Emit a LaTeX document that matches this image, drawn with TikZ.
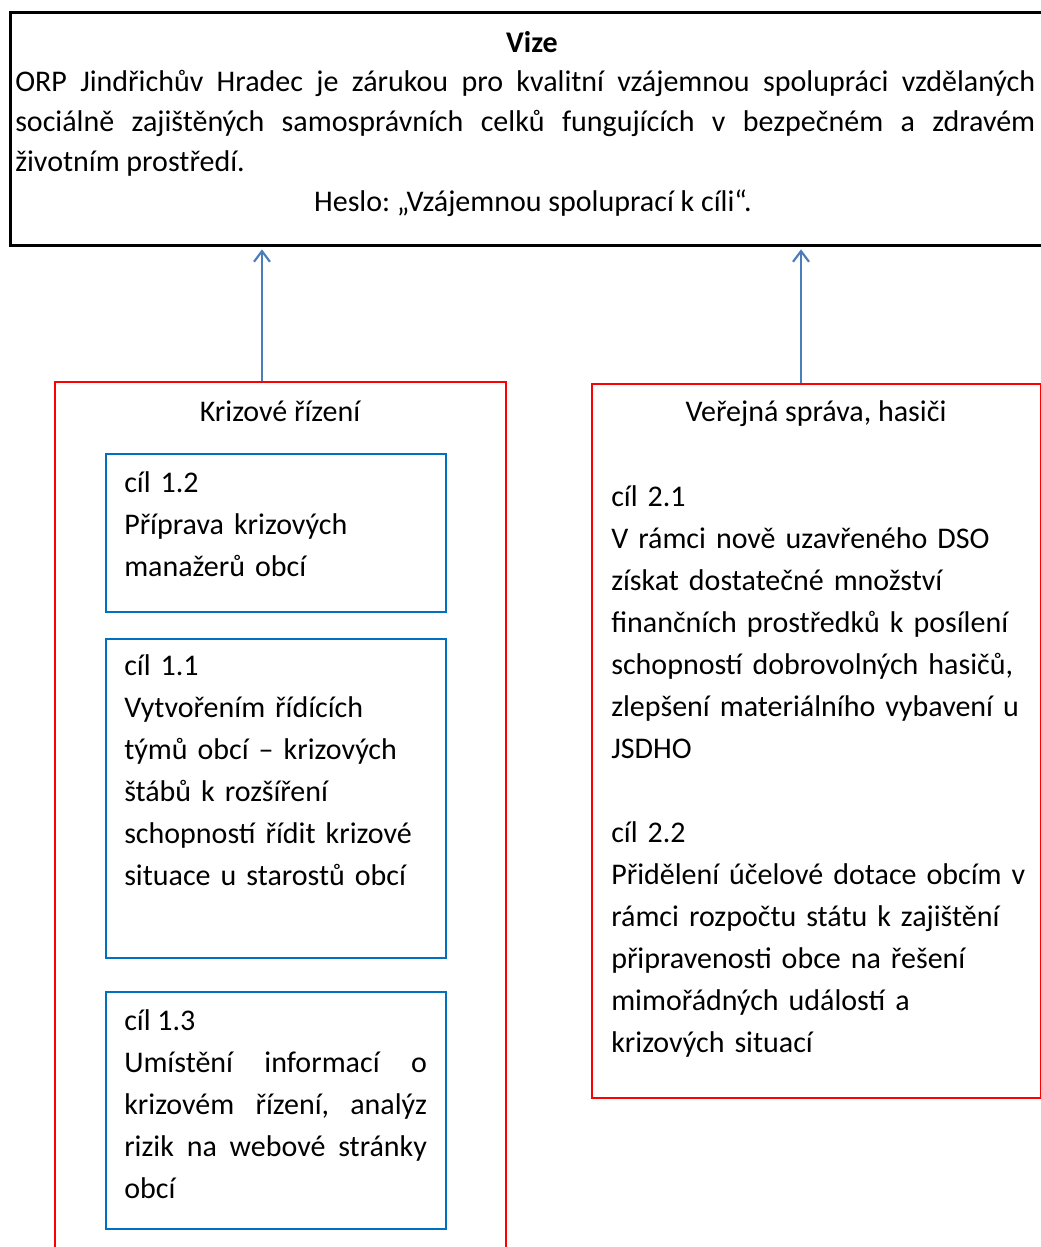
\documentclass[tikz,border=0pt]{standalone}
\usepackage{fontspec}
\setmainfont{Carlito}
\usepackage{xcolor}
\usepackage{tikz}
\usetikzlibrary{arrows.meta,positioning,calc}
\definecolor{GoalBlue}{HTML}{0070C0}
\definecolor{AreaRed}{HTML}{FF0000}
\definecolor{LinkBlue}{HTML}{4A7EBB}
\newcommand{\goalfont}{\fontsize{22.5}{31.5}\selectfont}
\newcommand{\vizefont}{\fontsize{22.5}{30}\selectfont}
\frenchspacing

\begin{document}
\begin{tikzpicture}[x=0.75pt,y=-0.75pt,
  box/.style={draw,line width=1.5pt,anchor=north west,inner sep=0pt},
  visionbox/.style={box,black,line width=2pt},
  areabox/.style={box,AreaRed},
  goalbox/.style={box,GoalBlue},
  txt/.style={inner sep=0pt,font=\goalfont,anchor=base west,text width=#1,align=left},
  head/.style={inner sep=0pt,font=\goalfont,anchor=base},
  link/.style={-{Straight Barb[length=8pt,width=12pt]},LinkBlue,line width=1.6pt,shorten >=2pt}]
\clip (0,0) rectangle (1041,1247);
% vize
\node[visionbox,minimum width=779.25pt,minimum height=174.75pt] (vize) at (9,11) {};
\node[head,font=\goalfont\bfseries] (vizetitle) at (532,52) {Vize};
\node[inner sep=0pt,font=\vizefont,anchor=base west,text width=765pt,align=justify] (vizetext) at (15,91)
  {ORP Jindřichův Hradec je zárukou pro kvalitní vzájemnou spolupráci vzdělaných\linebreak
   sociálně zajištěných samosprávních celků fungujících v bezpečném a zdravém\linebreak
   životním prostředí.};
\node[head] (heslo) at (533,211) {Heslo: „Vzájemnou spoluprací k cíli“.};

% krizove rizeni
\node[areabox,minimum width=338.25pt,minimum height=659.25pt] (krize) at (54,381) {};
\node[head] (krizetitle) at (280,421) {Krizové řízení};
\node[goalbox,minimum width=255pt,minimum height=118.5pt] (goal12) at (105,453) {};
\node[txt=230pt] (goal12text) at (124,492) {cíl 1.2\\Příprava krizových\\manažerů obcí};
\node[goalbox,minimum width=255pt,minimum height=239.25pt] (goal11) at (105,638) {};
\node[txt=230pt] (goal11text) at (124,675)
  {cíl 1.1\\Vytvořením řídících\\týmů obcí – krizových\\štábů k rozšíření\\schopností řídit krizové\\situace u starostů obcí};
\node[goalbox,minimum width=255pt,minimum height=177.75pt] (goal13) at (105,991) {};
\node[inner sep=0pt,font=\goalfont,anchor=base west,text width=227pt,align=justify] (goal13text) at (124,1030)
  {cíl 1.3\newline Umístění informací o\linebreak krizovém řízení, analýz\linebreak rizik na webové stránky\linebreak obcí};

% verejna sprava
\node[areabox,minimum width=336.75pt,minimum height=535.5pt] (sprava) at (591,383) {};
\node[head] (spravatitle) at (816,421) {Veřejná správa, hasiči};
\node[txt=320pt] (goal2text) at (611,506)
  {cíl 2.1\\V rámci nově uzavřeného DSO\\získat dostatečné množství\\finančních prostředků k posílení\\schopností dobrovolných hasičů,\\zlepšení materiálního vybavení u\\JSDHO\\[31.5pt]
   cíl 2.2\\Přidělení účelové dotace obcím v\\rámci rozpočtu státu k zajištění\\připravenosti obce na řešení\\mimořádných událostí a\\krizových situací};

% sipky
\draw[link] ([xshift=-13.9pt]krize.north) -- ([xshift=-13.9pt]krize.north |- vize.south);
\draw[link] ([xshift=-11.6pt]sprava.north) -- ([xshift=-11.6pt]sprava.north |- vize.south);
\end{tikzpicture}
\end{document}
